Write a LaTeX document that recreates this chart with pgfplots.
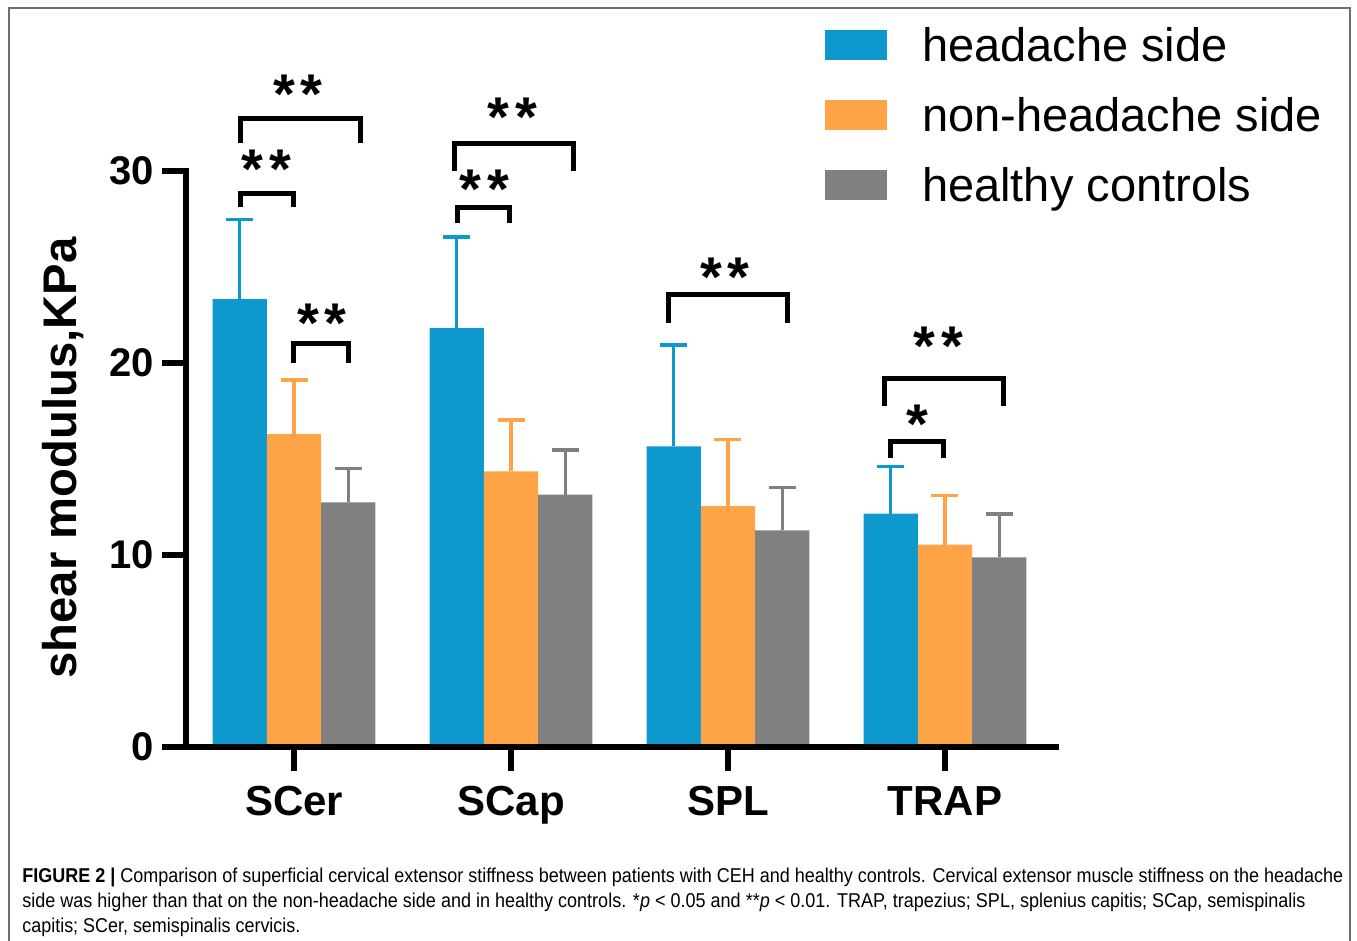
\documentclass[border=0pt]{standalone}
\usepackage{fontspec}
\setmainfont{Liberation Sans}
\usepackage{graphicx}
\usepackage{pgfplots}
\usepackage{pgfplotstable}
\pgfplotsset{compat=1.18}

\definecolor{hblue}{RGB}{13,152,206}
\definecolor{horange}{RGB}{255,163,71}
\definecolor{hgray}{RGB}{128,128,128}
\definecolor{framegray}{RGB}{110,110,110}

\pgfplotstableread{
x y e
0 23.33 4.13
1 21.82 4.74
2 15.66 5.28
3 12.15 2.45
}\headache
\pgfplotstableread{
x y e
0 16.30 2.81
1 14.36 2.67
2 12.55 3.46
3 10.54 2.57
}\nonheadache
\pgfplotstableread{
x y e
0 12.74 1.77
1 13.14 2.33
2 11.28 2.23
3 9.88 2.26
}\healthy

\newcommand{\starfont}{\fontsize{28}{30}\selectfont\bfseries}

\begin{document}
\begin{tikzpicture}
\path[use as bounding box] (0,0) rectangle (678.5pt,470.5pt);
\draw[framegray, line width=1pt] (4.5pt,0pt) -- (4.5pt,466.5pt) -- (675pt,466.5pt) -- (675pt,0pt);

\begin{axis}[
  at={(93pt,97pt)}, anchor=south west,
  scale only axis, width=435pt, height=288pt,
  xmin=-0.498, xmax=3.512, ymin=0, ymax=30,
  axis x line*=bottom, axis y line*=left,
  axis line style={line width=3pt, black, line cap=rect},
  tick style={line width=3pt, black},
  tick align=outside, major tick length=12pt,
  xtick={0,1,2,3}, xticklabels={SCer,SCap,SPL,TRAP},
  ytick={0,10,20,30}, minor tick num=0,
  /pgf/number format/assume math mode=true,
  xticklabel style={font=\fontsize{21}{22}\selectfont\bfseries, inner sep=0pt, anchor=north, yshift=-7.5pt},
  yticklabel style={font=\fontsize{20}{22}\selectfont\bfseries, inner sep=0pt, anchor=east, xshift=-4pt},
  ylabel={shear modulus,KPa},
  ylabel style={font=\fontsize{23.6}{26}\selectfont\bfseries, at={(axis description cs:-0.1264,0.5017)}, anchor=base},
  ybar, bar width=0.25,
  clip=false, axis on top=true,
  legend image code/.code={\fill[#1] (0pt,-5pt) rectangle (31pt,10pt);},
  legend cell align=left,
  legend style={draw=none, fill=none, at={(axis description cs:0.7345,1.2483)}, anchor=north west,
    inner sep=0pt, outer sep=0pt, row sep=13pt,
    font=\fontsize{23.5}{25}\selectfont,
    nodes={inner sep=0pt, text height=17pt, text depth=5pt},
    /tikz/every odd column/.append style={column sep=17.5pt}},
  error bars/error bar style={line width=1.6pt},
]
\addplot[fill=hblue, draw=none, bar shift=-0.25,
  error bars/.cd, y dir=plus, y explicit,
  error bar style={line width=1.6pt, draw=hblue},
  error mark options={line width=1.6pt, mark size=6.75pt, rotate=90, draw=hblue}]
  table[x=x, y=y, y error=e] {\headache};
\addlegendentry{headache side}
\addplot[fill=horange, draw=none, bar shift=0,
  error bars/.cd, y dir=plus, y explicit,
  error bar style={line width=1.6pt, draw=horange},
  error mark options={line width=1.6pt, mark size=6.75pt, rotate=90, draw=horange}]
  table[x=x, y=y, y error=e] {\nonheadache};
\addlegendentry{non-headache side}
\addplot[fill=hgray, draw=none, bar shift=0.25,
  error bars/.cd, y dir=plus, y explicit,
  error bar style={line width=1.6pt, draw=hgray},
  error mark options={line width=1.6pt, mark size=6.75pt, rotate=90, draw=hgray}]
  table[x=x, y=y, y error=e] {\healthy};
\addlegendentry{healthy controls}

% significance brackets
\begin{scope}[line width=2.5pt, black, miter limit=10]
\draw (axis cs:-0.249,31.46) |- (axis cs:0.304,32.71) -- (axis cs:0.304,31.46);
\draw (axis cs:-0.249,28.14) |- (axis cs:-0.003,28.84) -- (axis cs:-0.003,28.14);
\draw (axis cs:-0.003,19.98) |- (axis cs:0.250,21.03) -- (axis cs:0.250,19.98);
\draw (axis cs:0.739,30.02) |- (axis cs:1.287,31.44) -- (axis cs:1.287,30.02);
\draw (axis cs:0.754,27.28) |- (axis cs:0.995,28.09) -- (axis cs:0.995,27.28);
\draw (axis cs:1.725,22.10) |- (axis cs:2.273,23.58) -- (axis cs:2.273,22.10);
\draw (axis cs:2.720,17.76) |- (axis cs:3.269,19.20) -- (axis cs:3.269,17.76);
\draw (axis cs:2.750,15.03) |- (axis cs:2.992,15.89) -- (axis cs:2.992,15.03);
\end{scope}
\begin{scope}[every node/.style={anchor=base, inner sep=0pt, font=\starfont, yshift=-12.7pt}]
\node at (axis cs:0.018,34.32) {*\kern3pt*};
\node at (axis cs:-0.126,30.40) {*\kern3pt*};
\node at (axis cs:0.128,22.41) {*\kern3pt*};
\node at (axis cs:1.008,33.14) {*\kern3pt*};
\node at (axis cs:0.877,29.36) {*\kern3pt*};
\node at (axis cs:1.986,24.81) {*\kern3pt*};
\node at (axis cs:2.969,21.20) {*\kern3pt*};
\node at (axis cs:2.872,17.12) {*};
\end{scope}
\end{axis}

% caption
\begin{scope}[every node/.style={anchor=base west, inner sep=0pt, font=\fontsize{10}{12}\selectfont}]
\node at (11pt,29.25pt) {\resizebox{660.5pt}{\height}{\textbf{FIGURE 2 |} Comparison of superficial cervical extensor stiffness between patients with CEH and healthy controls. Cervical extensor muscle stiffness on the headache}};
\node at (11pt,16.75pt) {\resizebox{641.5pt}{\height}{side was higher than that on the non-headache side and in healthy controls. *\textit{p} < 0.05 and **\textit{p} < 0.01. TRAP, trapezius; SPL, splenius capitis; SCap, semispinalis}};
\node at (11pt,4.25pt) {\resizebox{139pt}{\height}{capitis; SCer, semispinalis cervicis.}};
\end{scope}
\end{tikzpicture}
\end{document}
